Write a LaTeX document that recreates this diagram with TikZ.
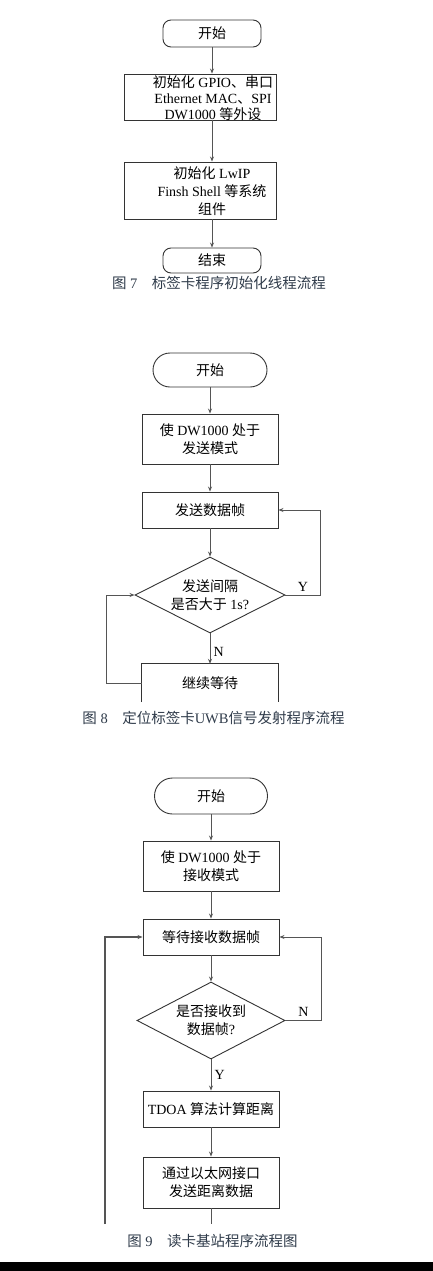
\documentclass[tikz,border=0pt]{standalone}
\usepackage{fontspec}
\setmainfont{Liberation Serif}
\newfontfamily\cjkfont{Noto Sans CJK SC}
\newcommand{\zw}[1]{{\cjkfont #1}}
\usetikzlibrary{shapes.geometric,arrows.meta}

\definecolor{linegray}{HTML}{555555}
\definecolor{boxgray}{HTML}{333333}
\definecolor{captext}{HTML}{2F3B4A}

\tikzset{
  box/.style={draw=boxgray, line width=0.9pt, minimum width=136pt, minimum height=36pt, align=center, inner sep=2pt},
  term/.style={draw=boxgray, line width=0.9pt, rounded corners=17pt, minimum width=114pt, minimum height=34pt},
  decide/.style={draw=boxgray, line width=0.9pt, diamond, shape aspect=2, inner sep=0pt, minimum width=150pt, minimum height=76pt, align=center},
  flow/.style={draw=linegray, line width=0.8pt, -{Stealth[length=5pt,width=4pt]}},
  caption/.style={text=captext, font=\fontsize{14.5}{17}\selectfont},
}

\begin{document}
\begin{tikzpicture}[x=1pt, y=-1pt, every node/.style={font=\fontsize{14}{18}\selectfont}]
\useasboundingbox (0,0) rectangle (433,1271);

% Figure 7
\node[term, minimum width=98pt, minimum height=27pt, rounded corners=8pt] (s7) at (212,33.5) {\zw{开始}};
\node[box, minimum width=152pt, minimum height=46pt] (b71) at (200,97) {};
\node[align=center, font=\fontsize{14}{16}\selectfont] (t71) at (213,98) {\zw{初始化} GPIO\zw{、串口}\\Ethernet MAC\zw{、}SPI\\DW1000 \zw{等外设}};
\node[box, minimum width=152pt, minimum height=57pt] (b72) at (200,190.5) {};
\node[align=center] (t72) at (212,191) {\zw{初始化} LwIP\\Finsh Shell \zw{等系统}\\\zw{组件}};
\node[term, minimum width=98pt, minimum height=25pt, rounded corners=8pt] (e7) at (212,260.5) {\zw{结束}};

\draw[flow] (s7.south) -- (s7.south |- b71.north);
\draw[flow] (s7 |- b71.south) -- (s7 |- b72.north);
\draw[flow] (s7 |- b72.south) -- (e7.north);

\node[caption] (cap7) at (219,283) {\zw{图} 7\quad\zw{标签卡程序初始化线程流程}};

% Figure 8
\node[term] (s8) at (210,370) {\zw{开始}};
\node[box, minimum height=50pt] (b82) at (210,439) {\zw{使} DW1000 \zw{处于}\\\zw{发送模式}};
\node[box] (b83) at (210,510) {\zw{发送数据帧}};
\node[decide] (d8) at (210,595) {\zw{发送间隔}\\\zw{是否大于} 1s?};
\node[minimum width=136pt, minimum height=38pt] (b84) at (210,683) {\zw{继续等待}};
\draw[draw=boxgray, line width=0.9pt] (b84.south west) -- (b84.north west) -- (b84.north east) -- (b84.south east);

\draw[flow] (s8) -- (b82);
\draw[flow] (b82) -- (b83);
\draw[flow] (b83) -- (d8);
\draw[flow] (d8) -- node[right, pos=0.6] {N} (b84);
\draw[flow] (d8.east) -- ++(35,0) node[above, pos=0.5] {Y} |- (b83.east);
\draw[flow] (b84.west) -- ++(-35,0) |- (d8.west);

\node[caption] (cap8) at (213.5,718) {\zw{图} 8\quad\zw{定位标签卡}UWB\zw{信号发射程序流程}};

% Figure 9
\node[term, minimum width=113pt, minimum height=36pt, rounded corners=18pt] (s9) at (211,796) {\zw{开始}};
\node[box, minimum height=50pt] (b92) at (211,866) {\zw{使} DW1000 \zw{处于}\\\zw{接收模式}};
\node[box] (b93) at (211,937) {\zw{等待接收数据帧}};
\node[decide, minimum width=148pt, minimum height=77pt] (d9) at (211,1020.5) {\zw{是否接收到}\\\zw{数据帧}?};
\node[box] (b94) at (211,1109) {TDOA \zw{算法计算距离}};
\node[box, minimum height=51pt] (b95) at (211,1182.5) {\zw{通过以太网接口}\\\zw{发送距离数据}};
\coordinate (c9) at (105,1224);

\draw[flow] (s9) -- (b92);
\draw[flow] (b92) -- (b93);
\draw[flow] (b93) -- (d9);
\draw[flow] (d9) -- node[right, pos=0.5] {Y} (b94);
\draw[flow] (b94) -- (b95);
\draw[flow] (d9.east) -- ++(36,0) node[above, pos=0.5] {N} |- (b93.east);
\draw[draw=linegray, line width=0.8pt] (b95.south) -- ++(0,16);
\draw[flow, line width=1.4pt] (c9) |- (b93.west);

\node[caption] (cap9) at (212.5,1241) {\zw{图} 9\quad\zw{读卡基站程序流程图}};

% bottom edge
\fill[black] (0,1262) rectangle (433,1271);

\end{tikzpicture}
\end{document}
